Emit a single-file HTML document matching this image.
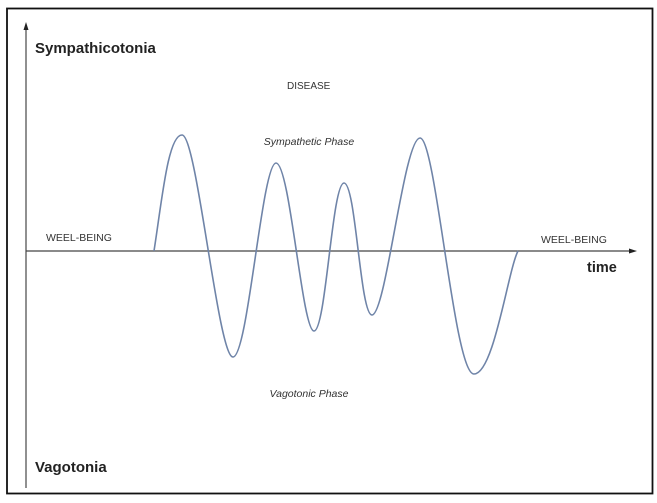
<!DOCTYPE html>
<html><head><style>
html,body{margin:0;padding:0;background:#fff;}
svg{display:block;}
text{font-family:"Liberation Sans",sans-serif;}
</style></head><body>
<svg width="657" height="503" viewBox="0 0 657 503" xmlns="http://www.w3.org/2000/svg">
<rect x="7" y="8.5" width="645.5" height="485" fill="#fff" stroke="#111" stroke-width="1.8"/>
<line x1="26" y1="28" x2="26" y2="488" stroke="#555" stroke-width="1.3"/>
<polygon points="26,22 23.5,30 28.5,30" fill="#222"/>
<line x1="26" y1="251" x2="631" y2="251" stroke="#444" stroke-width="1.3"/>
<polygon points="637,251 629,248.5 629,253.5" fill="#222"/>
<path d="M154,251 C162,200 168,135 182,135 C197,135 218,357 233,357 C248,357 262,163 276,163 C290,163 302,331 314,331 C326,331 332,183 344,183 C356,183 360,315 372,315 C386,315 404,138 420,138 C436,138 454,374 474,374 C494,374 508,270 518,251" fill="none" stroke="#6f84a8" stroke-width="1.6"/>
<text x="35" y="53" font-size="15" font-weight="bold" fill="#222">Sympathicotonia</text>
<text x="287" y="89" font-size="10" fill="#333">DISEASE</text>
<text x="309" y="145" font-size="10.5" font-style="italic" fill="#333" text-anchor="middle">Sympathetic Phase</text>
<text x="46" y="241" font-size="10.5" fill="#333">WEEL-BEING</text>
<text x="541" y="243" font-size="10.5" fill="#333">WEEL-BEING</text>
<text x="587" y="272" font-size="14.5" font-weight="bold" fill="#222">time</text>
<text x="309" y="397" font-size="10.5" font-style="italic" fill="#333" text-anchor="middle">Vagotonic Phase</text>
<text x="35" y="472" font-size="15" font-weight="bold" fill="#222">Vagotonia</text>
</svg>
</body></html>
